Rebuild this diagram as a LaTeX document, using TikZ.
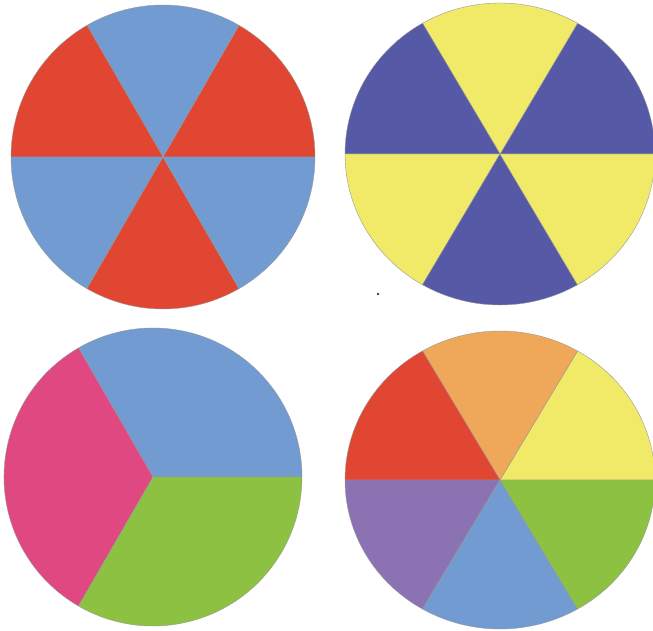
\documentclass[tikz,border=0pt]{standalone}
\definecolor{cred}{HTML}{E04632}
\definecolor{cblue}{HTML}{729BD2}
\definecolor{cdblue}{HTML}{5559A6}
\definecolor{cyellow}{HTML}{F1E968}
\definecolor{cpink}{HTML}{E04882}
\definecolor{cgreen}{HTML}{8CC142}
\definecolor{corange}{HTML}{EFA85A}
\definecolor{cpurple}{HTML}{8B72B2}
\begin{document}
\begin{tikzpicture}[x=1pt,y=1pt,
  sector/.style={line width=0.4pt, draw=black!40, line join=round}]
\useasboundingbox (0,0) rectangle (653,631);
\clip (0,0) rectangle (653,631);
% top-left wheel
\coordinate (A) at (163,474);
\foreach \c [count=\i from 0, evaluate=\i as \a using \i*60] in {cred,cblue,cred,cblue,cred,cblue}
  \filldraw[sector, fill=\c] (A) -- ++(\a:152 and 152) arc[start angle=\a, delta angle=60, x radius=152, y radius=152] -- cycle;
% top-right wheel
\coordinate (B) at (500,477);
\foreach \c [count=\i from 0, evaluate=\i as \a using \i*60] in {cdblue,cyellow,cdblue,cyellow,cdblue,cyellow}
  \filldraw[sector, fill=\c] (B) -- ++(\a:155 and 151) arc[start angle=\a, delta angle=60, x radius=155, y radius=151] -- cycle;
% bottom-left wheel
\coordinate (C) at (153,154);
\foreach \c [count=\i from 0, evaluate=\i as \a using \i*120] in {cblue,cpink,cgreen}
  \filldraw[sector, fill=\c] (C) -- ++(\a:149 and 149) arc[start angle=\a, delta angle=120, x radius=149, y radius=149] -- cycle;
% bottom-right wheel
\coordinate (D) at (500,151);
\foreach \c [count=\i from 0, evaluate=\i as \a using \i*60] in {cyellow,corange,cred,cpurple,cblue,cgreen}
  \filldraw[sector, fill=\c] (D) -- ++(\a:155 and 149) arc[start angle=\a, delta angle=60, x radius=155, y radius=149] -- cycle;
% stray dot
\fill[cdblue!70!black] (378,337) circle[radius=1.3];
\end{tikzpicture}
\end{document}
